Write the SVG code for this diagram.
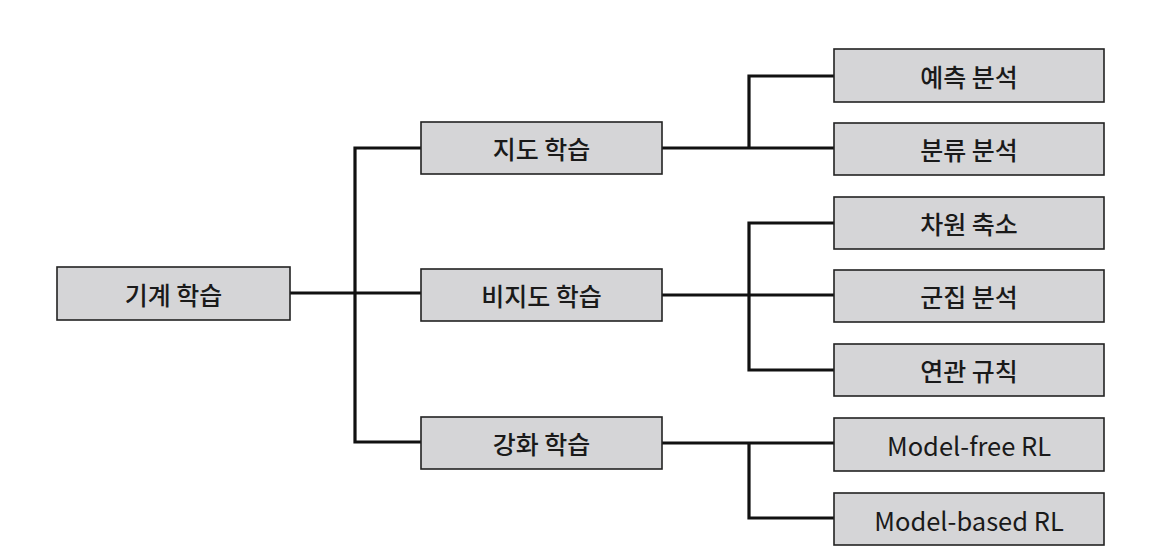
<svg xmlns="http://www.w3.org/2000/svg" width="1169" height="556" viewBox="0 0 1169 556">
<style>
.box{fill:#d5d5d7;stroke:#222;stroke-width:1.6}
.lbl{font-family:"Noto Sans CJK KR","Noto Sans",sans-serif;font-size:25px;font-weight:500;fill:#1a1a1a;text-anchor:middle;dominant-baseline:central}
.en{font-size:25.5px;font-weight:400}
.ln{fill:none;stroke:#111;stroke-width:3.2}
</style>
<rect width="1169" height="556" fill="#fff"/>
<g id="connectors">
<path class="ln" d="M290 293H421"/>
<path class="ln" d="M421 148H355V442H421"/>
<path class="ln" d="M662 148H834"/>
<path class="ln" d="M749 148V76H834"/>
<path class="ln" d="M662 295H834"/>
<path class="ln" d="M834 223H749V370H834"/>
<path class="ln" d="M662 443H834"/>
<path class="ln" d="M749 443V518H834"/>
</g>
<g id="n-ml"><rect class="box" x="57" y="267" width="233" height="53"/><text class="lbl" x="173.5" y="293.5">기계 학습</text></g>
<g id="n-sup"><rect class="box" x="421" y="122" width="241" height="52"/><text class="lbl" x="541.5" y="148">지도 학습</text></g>
<g id="n-unsup"><rect class="box" x="421" y="269" width="241" height="52"/><text class="lbl" x="541.5" y="295">비지도 학습</text></g>
<g id="n-rl"><rect class="box" x="421" y="417" width="241" height="52"/><text class="lbl" x="541.5" y="443">강화 학습</text></g>
<g id="n-pred"><rect class="box" x="834" y="49" width="270" height="53"/><text class="lbl" x="969" y="75.5">예측 분석</text></g>
<g id="n-cls"><rect class="box" x="834" y="123" width="270" height="52"/><text class="lbl" x="969" y="149">분류 분석</text></g>
<g id="n-dim"><rect class="box" x="834" y="197" width="270" height="52"/><text class="lbl" x="969" y="223">차원 축소</text></g>
<g id="n-clu"><rect class="box" x="834" y="270" width="270" height="52"/><text class="lbl" x="969" y="296">군집 분석</text></g>
<g id="n-assoc"><rect class="box" x="834" y="344" width="270" height="52"/><text class="lbl" x="969" y="370">연관 규칙</text></g>
<g id="n-mfree"><rect class="box" x="834" y="418" width="270" height="53"/><text class="lbl en" x="969" y="444.5">Model-free RL</text></g>
<g id="n-mbased"><rect class="box" x="834" y="493" width="270" height="52"/><text class="lbl en" x="969" y="519">Model-based RL</text></g>
</svg>
